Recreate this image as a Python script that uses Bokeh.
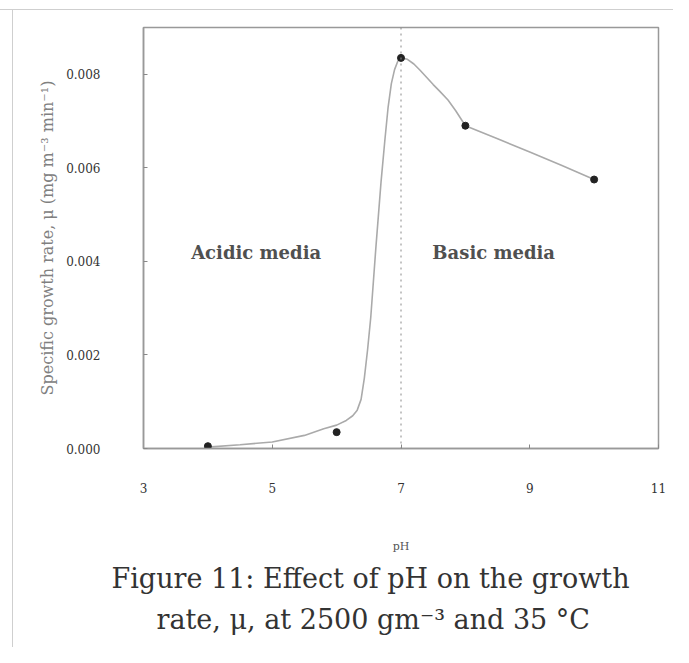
from bokeh.plotting import figure
from bokeh.models import (Span, Label, Title, FixedTicker, NumeralTickFormatter, Range1d)
from bokeh.embed import file_html
from bokeh.resources import INLINE

# measured data points
ph = [4, 6, 7, 8, 10]
mu = [0.00005, 0.00035, 0.00835, 0.0069, 0.00575]

# smoothed curve as drawn in the figure
curve_ph = [4.0, 4.5, 5.0, 5.5, 5.8, 6.0, 6.15, 6.25, 6.32, 6.38, 6.43, 6.48, 6.53,
            6.61, 6.69, 6.75, 6.8, 6.85, 6.9, 6.95, 7.0, 7.1, 7.2, 7.3, 7.4, 7.5,
            7.6, 7.73, 7.85, 8.0, 8.5, 9.0, 9.5, 10.0]
curve_mu = [0.00003, 0.00008, 0.00014, 0.00028, 0.00042, 0.0005, 0.0006, 0.0007,
            0.00082, 0.00105, 0.0015, 0.0021, 0.0028, 0.0043, 0.0057, 0.0066,
            0.0073, 0.0078, 0.0081, 0.00828, 0.00835, 0.00832, 0.00822, 0.00808,
            0.00793, 0.00778, 0.00764, 0.00745, 0.00722, 0.0069, 0.00662, 0.00634,
            0.00605, 0.00575]

x_ticks = [3, 5, 7, 9, 11]
y_ticks = [0.0, 0.002, 0.004, 0.006, 0.008]

SERIF = "DejaVu Serif"

page_bg = ("linear-gradient(#cfcfcf,#cfcfcf) 0 9px / 100% 1px no-repeat, "
           "linear-gradient(#cfcfcf,#cfcfcf) 12px 9px / 1px 100% no-repeat, white")

p = figure(width=673, height=647, output_backend="svg", toolbar_location=None,
           x_range=Range1d(3, 11), y_range=Range1d(0, 0.009),
           min_border_left=143, min_border_right=15, min_border_top=27, min_border_bottom=199,
           styles={"background": page_bg})
p.grid.visible = False
p.outline_line_color = "#999999"
p.outline_line_width = 1.5
p.background_fill_color = "white"
p.border_fill_color = None

# axes
p.xaxis.ticker = FixedTicker(ticks=x_ticks)
p.yaxis.ticker = FixedTicker(ticks=y_ticks)
p.yaxis.formatter = NumeralTickFormatter(format="0.000")
for ax in (p.xaxis[0], p.yaxis[0]):
    ax.axis_line_color = "#999999"
    ax.axis_line_width = 1.5
    ax.major_tick_in = 4
    ax.major_tick_out = 0
    ax.minor_tick_line_color = None
    ax.major_tick_line_color = "#888888"
    ax.major_label_text_font = SERIF
    ax.major_label_text_font_size = "12px"
    ax.major_label_text_color = "#333333"
    ax.axis_label_text_font = SERIF
    ax.axis_label_text_font_style = "normal"
    ax.axis_label_text_color = "#555555"

p.xaxis.major_label_standoff = 34
p.xaxis.axis_label = "pH"
p.xaxis.axis_label_text_font_size = "11px"
p.xaxis.axis_label_standoff = 44

p.yaxis.major_label_standoff = 43
p.yaxis.axis_label = "Specific growth rate, \u03bc (mg m\u207b\u00b3 min\u207b\u00b9)"
p.yaxis.axis_label_text_font_size = "16px"
p.yaxis.axis_label_text_color = "#808080"
p.yaxis.axis_label_standoff = 6

# boundary between acidic and basic media
p.add_layout(Span(location=7, dimension="height", line_color="#888888",
                  line_dash="2 4", line_width=1))

# curve and points
p.line(curve_ph, curve_mu, line_color="#aaaaaa", line_width=1.6)
p.scatter(ph, mu, size=7, color="#222222")

# region labels
for xx, txt in ((4.75, "Acidic media"), (8.44, "Basic media")):
    p.add_layout(Label(x=xx, y=0.0042, text=txt, text_align="center",
                       text_baseline="middle", text_font=SERIF, text_font_size="18px",
                       text_font_style="bold", text_color="#505050"))

# caption
t1 = Title(text="Figure 11: Effect of pH on the growth", align="left", offset=-32,
           standoff=10, text_font=SERIF, text_font_size="27px",
           text_font_style="normal", text_color="#333333")
t2 = Title(text="rate, \u03bc, at 2500 gm\u207b\u00b3 and 35 \u00b0C", align="left", offset=13,
           standoff=6, text_font=SERIF, text_font_size="27px",
           text_font_style="normal", text_color="#333333")
p.add_layout(t1, "below")
p.add_layout(t2, "below")

open("out.html", "w").write(file_html(p, INLINE))
